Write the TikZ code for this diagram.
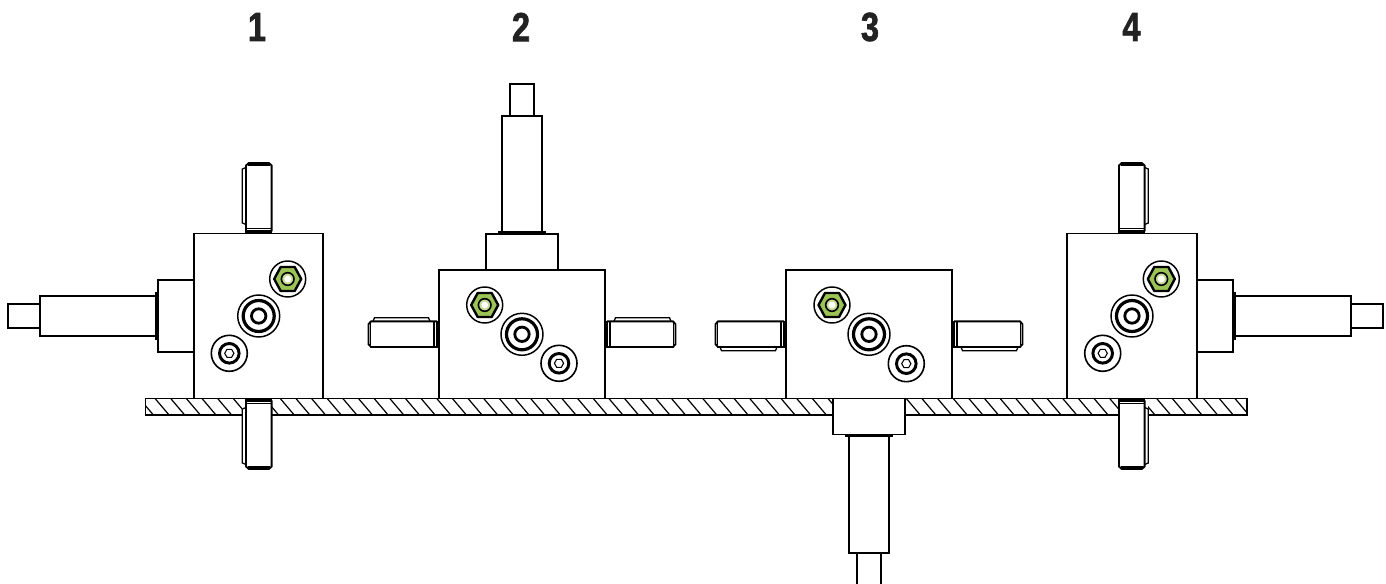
\documentclass[tikz,border=0pt]{standalone}
\usepackage{fontspec}
\newfontfamily\numfont[FakeStretch=0.8,FakeBold=1.6]{Liberation Sans Bold}
\definecolor{nutgreen}{HTML}{9CC356}
\definecolor{numink}{HTML}{222222}
\tikzset{
  x=0.75pt,y=-0.75pt,
  ln/.style={line width=1.4pt,draw=black,line join=miter},
  thn/.style={line width=0.95pt,draw=black},
  housing/.style={ln,fill=white},
  title/.style={font=\numfont\fontsize{30.5}{30.5}\selectfont,inner sep=0pt,text=numink},
  stud/.pic={
    \fill[white] (-16.5,-66) rectangle (13,0);
    \draw[thn,fill=white] (-12.8,-66) -- (-16.5,-64.5) -- (-16.5,-10.5) -- (-12.8,-9);
    \draw[ln,fill=white] (-12.8,-2) -- (-12.8,-68) -- (-10,-70.5) -- (10,-70.5) -- (12.8,-68) -- (12.8,-2);
    \draw[thn] (-11,-68.5) -- (11,-68.5);
    \draw[line width=2.6pt] (-13.6,-1.4) -- (13.6,-1.4);
    \draw[thn] (-12.5,-5) -- (12.5,-5);
  },
  shaft/.pic={
    \draw[ln,fill=white] (-36,0) -- (-36,-36) -- (36,-36) -- (36,0);
    \draw[ln,fill=white] (-12,-154.3) -- (-12,-186) -- (12,-186) -- (12,-154.3);
    \draw[ln,fill=white] (-20,-37) -- (-20,-154.3) -- (20,-154.3) -- (20,-37);
    \draw[line width=2.6pt] (-24,-37) -- (24,-37);
  },
  nutbolt/.pic={
    \draw[line width=1.1pt,fill=white] (0,0) circle (18);
    \draw[line width=1.8pt,fill=nutgreen,line join=round]
      (-13.5,0) -- (-7,-12) -- (7,-12) -- (13.5,0) -- (7,12) -- (-7,12) -- cycle;
    \draw[line width=1.2pt,fill=nutgreen!60] (0,0) circle (6.3);
    \fill[white] (0,0) circle (3.4);
  },
  bigbolt/.pic={
    \draw[line width=1.1pt,fill=white] (0,0) circle (21);
    \draw[line width=2.4pt] (0,0) circle (15.5);
    \draw[line width=2.1pt] (0,0) circle (7.2);
  },
  smallbolt/.pic={
    \draw[line width=1.2pt,fill=white] (0,0) circle (18);
    \draw[line width=2.2pt] (0,0) circle (9.8);
    \draw[line width=0.8pt] (-4.6,0) -- (-2.3,-4) -- (2.3,-4) -- (4.6,0) -- (2.3,4) -- (-2.3,4) -- cycle;
  },
}
\begin{document}
\begin{tikzpicture}
\useasboundingbox (0,0) rectangle (1386,584);
\fill[white] (0,0) rectangle (1386,584);
% titles
\node[title] (t1) at (257,27) {1};
\node[title] (t2) at (521,27) {2};
\node[title] (t3) at (870,27) {3};
\node[title] (t4) at (1131.5,27) {4};
% base plate
\fill[white] (145.5,398.5) rectangle (1247,415);
\begin{scope}
\clip (145.5,398.5) rectangle (1247,415);
\foreach \k in {0,...,70} \draw[line width=0.9pt] ({139.4+15.65*\k},398.5) -- ++(14,16.5);
\end{scope}
\draw[ln] (145.5,398.5) rectangle (1247,415);
% unit 1
\pic at (258.85,233.5) {stud};
\pic[yscale=-1] at (258.85,398.5) {stud};
\pic[rotate=90] at (194,316) {shaft};
\draw[housing] (194,233.5) rectangle (323,398.5);
\pic at (287.7,279) {nutbolt};
\pic at (258.7,316) {bigbolt};
\pic at (229.3,353.3) {smallbolt};
% unit 2
\pic at (522,270) {shaft};
\pic[rotate=90,xscale=-1] at (439,334.2) {stud};
\pic[rotate=-90] at (605,334.2) {stud};
\draw[housing] (439,270) rectangle (605,398.5);
\pic at (484.7,305) {nutbolt};
\pic at (522,334.3) {bigbolt};
\pic at (559,363.3) {smallbolt};
% unit 3
\pic[yscale=-1] at (869,398.5) {shaft};
\pic[rotate=90] at (786,334.2) {stud};
\pic[rotate=-90,xscale=-1] at (952,334.2) {stud};
\draw[housing] (786,270) rectangle (952,398.5);
\pic at (832,305) {nutbolt};
\pic at (869,334.3) {bigbolt};
\pic at (906.3,363.7) {smallbolt};
% unit 4
\pic[xscale=-1] at (1131.8,233.5) {stud};
\pic[rotate=180] at (1131.8,398.5) {stud};
\pic[rotate=-90] at (1197,316) {shaft};
\draw[housing] (1067.3,233.5) rectangle (1197,398.5);
\pic at (1161.3,279) {nutbolt};
\pic at (1132,316) {bigbolt};
\pic at (1102.7,353.3) {smallbolt};
\end{tikzpicture}
\end{document}
